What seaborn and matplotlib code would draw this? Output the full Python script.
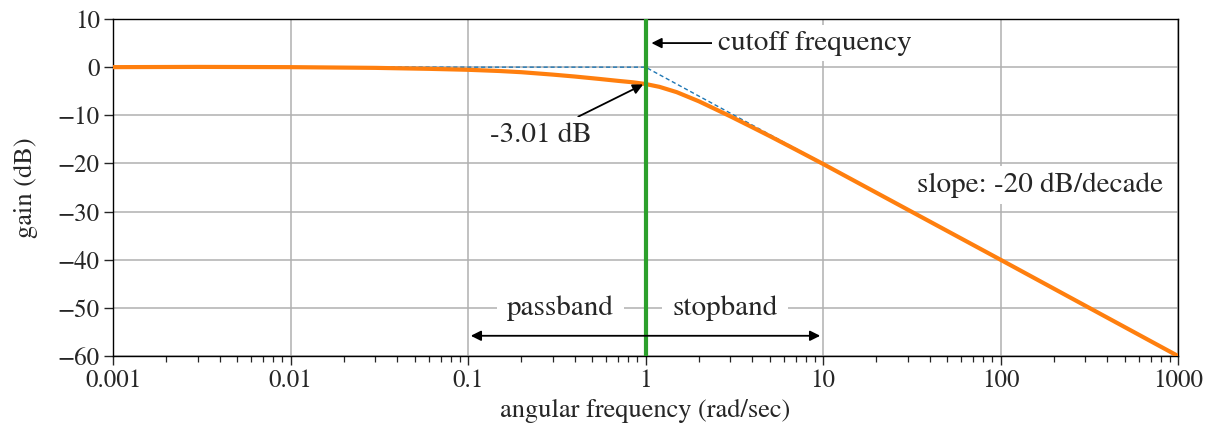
import matplotlib
matplotlib.use("Agg")
import matplotlib.pyplot as plt
import seaborn as sns
import pandas as pd
from matplotlib.ticker import FixedLocator, FixedFormatter, LogLocator, NullFormatter

# ---- data ----
omega = [0.001, 0.003, 0.01, 0.03, 0.06, 0.1, 0.15, 0.2, 0.3, 0.4, 0.55, 0.7,
         0.85, 1.0, 1.2, 1.5, 2.0, 2.5, 3.0, 4.0, 5.0, 7.0, 10, 100, 1000]
gain = [0.0, 0.05, 0.0, -0.15, -0.35, -0.55, -0.8, -1.05, -1.55, -1.95, -2.45,
        -2.85, -3.15, -3.5, -4.1, -5.2, -7.1, -8.8, -10.2, -12.5, -14.3, -17.1,
        -20.1, -40.0, -60.0]
asym_omega = [0.001, 1, 1000]
asym_gain = [0, 0, -60]
cutoff = 1.0
x_ticks = [0.001, 0.01, 0.1, 1, 10, 100, 1000]
x_ticklabels = ["0.001", "0.01", "0.1", "1", "10", "100", "1000"]
y_ticks = [10, 0, -10, -20, -30, -40, -50, -60]

sns.set_theme(style="ticks")
plt.rcParams["font.family"] = ["STIXGeneral", "Liberation Serif", "DejaVu Serif"]
plt.rcParams["font.size"] = 18
plt.rcParams["axes.unicode_minus"] = True

fig = plt.figure(figsize=(12.11, 4.33), dpi=100)
ax = fig.add_axes([113 / 1211, 1 - 356 / 433, (1178 - 113) / 1211, (356 - 19) / 433])

df = pd.DataFrame({"omega": omega, "gain": gain})
adf = pd.DataFrame({"omega": asym_omega, "gain": asym_gain})

sns.lineplot(data=adf, x="omega", y="gain", ax=ax, color="#1f77b4",
             linewidth=1.0, linestyle=(0, (3, 2)), zorder=2)
sns.lineplot(data=df, x="omega", y="gain", ax=ax, color="#ff7f0e",
             linewidth=3.0, zorder=3, solid_capstyle="butt")
ax.axvline(cutoff, color="#2ca02c", linewidth=3.0, zorder=4)

ax.set_xscale("log")
ax.set_xlim(0.001, 1000)
ax.set_ylim(-60, 10)
ax.xaxis.set_major_locator(FixedLocator(x_ticks))
ax.xaxis.set_major_formatter(FixedFormatter(x_ticklabels))
ax.xaxis.set_minor_locator(LogLocator(base=10, subs=range(2, 10), numticks=20))
ax.xaxis.set_minor_formatter(NullFormatter())
ax.yaxis.set_major_locator(FixedLocator(y_ticks))

ax.grid(True, which="major", color="#b0b0b0", linewidth=1.1)
ax.set_axisbelow(True)
ax.tick_params(which="major", length=6.5, width=1.0, labelsize=18, pad=3)
ax.tick_params(which="minor", length=4, width=0.9)
for s in ax.spines.values():
    s.set_linewidth(1.0)
    s.set_color("black")

ax.set_xlabel("angular frequency (rad/sec)", fontsize=19)
ax.set_ylabel("gain (dB)", fontsize=19, labelpad=14)

fs = 21
bbox = dict(boxstyle="square,pad=0.2", fc="white", ec="none")
ax.annotate("cutoff frequency", xy=(1.08, 5), xytext=(2.56, 5),
            ha="left", va="center", fontsize=fs, bbox=bbox, zorder=6,
            arrowprops=dict(arrowstyle="-|>", color="black", lw=1.3,
                            mutation_scale=15, shrinkA=0, shrinkB=0))
ax.annotate("-3.01 dB", xy=(0.97, -3.6), xytext=(0.5, -14.1),
            ha="right", va="center", fontsize=fs, bbox=bbox, zorder=6,
            arrowprops=dict(arrowstyle="-|>", color="black", lw=1.3,
                            mutation_scale=15, shrinkA=0, shrinkB=0))
ax.text(823, -24.5, "slope: -20 dB/decade", ha="right", va="center",
        fontsize=fs, bbox=bbox, zorder=6)
ax.text(1 / 3, -50, "passband", ha="center", va="center", fontsize=fs,
        bbox=dict(boxstyle="square,pad=0.35", fc="white", ec="none"), zorder=6)
ax.text(2.8, -50, "stopband", ha="center", va="center", fontsize=fs,
        bbox=dict(boxstyle="square,pad=0.35", fc="white", ec="none"), zorder=6)
ax.annotate("", xy=(0.1, -55.8), xytext=(10, -55.8),
            arrowprops=dict(arrowstyle="<|-|>", color="black", lw=1.3,
                            mutation_scale=15, shrinkA=2, shrinkB=2), zorder=6)

fig.savefig("out.png", dpi=100)
